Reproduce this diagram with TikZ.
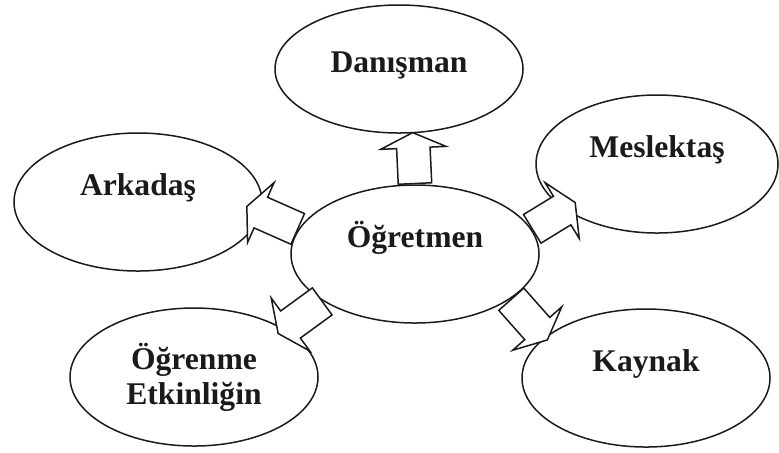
\documentclass[tikz,border=0pt]{standalone}
\usepackage{fontspec}
\setmainfont{Liberation Serif}
\usepackage{tikz}
\usetikzlibrary{shapes.geometric,shapes.arrows,calc}
\definecolor{Ink}{HTML}{1A1A1A}
\tikzset{
  every node/.append style={text=Ink},
  bubble/.style={ellipse, draw=Ink, line width=0.75pt, minimum width=124pt,
                 minimum height=69pt, inner sep=0pt, align=center,
                 font=\fontsize{15.8}{17.5}\selectfont\bfseries},
  lift/.style={text height=12pt, text depth=#1},
  blk/.style={single arrow, draw=Ink, fill=white, line width=0.75pt,
              inner sep=8pt, single arrow head extend=8pt,
              single arrow tip angle=130},
  % the head may run a little into the target bubble
  blockto/.style={to path={
      let \p1=($(\tikztotarget)-(\tikztostart)$),
          \n1={veclen(\x1,\y1)}, \n2={atan2(\y1,\x1)} in
      node[blk, minimum height=\n1+#1, rotate=\n2, anchor=tail] at (\tikztostart) {}}},
  blockto/.default=0,
}
\begin{document}
\begin{tikzpicture}[x=0.5pt, y=-0.5pt]
  \useasboundingbox (0,0) rectangle (779,452);
  \node[bubble, lift=18.6pt] (ogretmen) at (415,254) {Öğretmen};
  \node[bubble, lift=8.6pt, minimum height=64pt] (danisman) at (399,69) {Danışman};
  \node[bubble, lift=18.6pt] (arkadas) at (138,202) {Arkadaş};
  \node[bubble, lift=18.6pt, minimum width=121pt] (meslektas) at (657,164) {Meslektaş};
  \node[bubble] (ogrenme) at (194,377) {Öğrenme\\Etkinliğin};
  \node[bubble, lift=18.6pt] (kaynak) at (646,378) {Kaynak};
  \path (ogretmen.90) to[blockto] (danisman.-78);
  \path (ogretmen.168) to[blockto=7.5] (arkadas.-5);
  \path (ogretmen.12) to[blockto=6] (meslektas.206);
  \path (ogretmen.-25) to[blockto=1.5] (kaynak.158);
  \path (ogretmen.207) to[blockto=3.5] (ogrenme.28);
\end{tikzpicture}
\end{document}
